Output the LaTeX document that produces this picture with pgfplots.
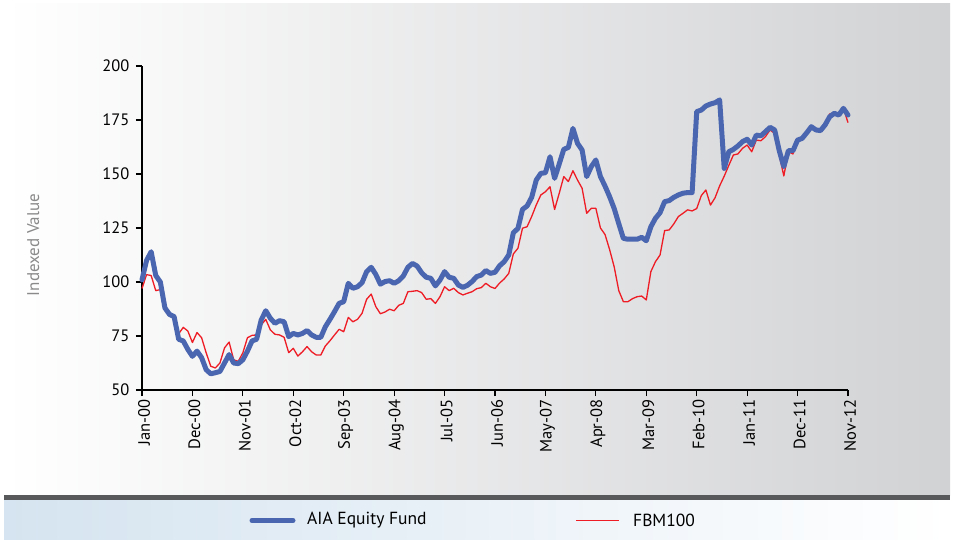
\documentclass[border=0pt]{standalone}
\usepackage{pgfplots}
\pgfplotsset{compat=1.18}
\usepackage{pgfplotstable}
\usepackage{fontspec}
\setmainfont{PT Sans}
\definecolor{aiablue}{HTML}{4A66B0}
\definecolor{fbmred}{HTML}{EE1C25}
\definecolor{panelR}{HTML}{D1D2D4}
\definecolor{darkbar}{HTML}{58595B}
\definecolor{legblue}{HTML}{D5E4F0}
\definecolor{labgray}{HTML}{8A8A8A}
\pgfplotstableread{
m aia fbm
0 101 97
1 110 103.4
2 114 103
3 103 96
4 100 96.5
5 88 88
6 85 85
7 84 84
8 73.5 76
9 72.7 79
10 68.8 77.3
11 65.6 72
12 68 76.6
13 65 74.2
14 59.4 67.2
15 57.5 61
16 58 60.2
17 58.6 62.5
18 62.5 69.5
19 66.4 72.2
20 62.5 64
21 62.2 63.3
22 64 67.2
23 68 74.2
24 72.7 75.3
25 73.5 75.5
26 82.4 80.1
27 86.7 82.7
28 83.2 77.8
29 80.9 75.8
30 82.1 75.5
31 81.6 74.4
32 74.7 67.3
33 76.2 69.3
34 75.5 65.7
35 76.2 67.7
36 77.5 70.1
37 75.5 67.7
38 74.4 66.2
39 74.4 66.2
40 79.3 70.4
41 82.7 72.8
42 86.3 75.5
43 90.1 78.1
44 90.9 77
45 99.4 83.6
46 97.1 81.6
47 97.8 82.7
48 99.7 85.5
49 104.8 92
50 106.8 94.4
51 103.5 88.6
52 99 85.3
53 100.2 86.1
54 100.6 87.4
55 99.4 86.7
56 100.6 89.2
57 102.8 90.1
58 106.8 95.5
59 108.6 95.7
60 107.4 96
61 104.3 95.1
62 102.2 92
63 101.7 92.3
64 98.2 90.1
65 100.9 93.2
66 104.8 97.8
67 102.2 96
68 101.7 97.1
69 98.6 95.1
70 97.5 94
71 98.5 94.8
72 100.2 95.5
73 102.5 96.9
74 103.2 97.4
75 105.3 99.4
76 104 97.8
77 104.5 97
78 107.5 99.5
79 109.4 101.4
80 112.5 104
81 122.8 113
82 124.8 115.6
83 133.6 124.9
84 135.2 125.6
85 139.2 130.3
86 147.2 135.7
87 150.3 140.3
88 150.6 141.8
89 158 144.1
90 148 133.6
91 154.6 141
92 161.4 148.8
93 162.3 146.5
94 171.1 151.5
95 164.2 147.2
96 161.1 143.4
97 148.8 131.8
98 153.4 134.1
99 156.5 134.1
100 148.8 125
101 144.4 122
102 139.5 115
103 134 107
104 127 96
105 120.2 90.9
106 119.8 90.9
107 119.8 92.3
108 119.8 93.2
109 120.7 93.5
110 119.1 91.7
111 125.6 104.8
112 129.5 109.4
113 132.1 112.5
114 137.2 123.8
115 137.7 124.1
116 139.2 126.9
117 140.3 130.3
118 141.1 131.8
119 141.4 133.4
120 141.4 132.9
121 178.9 134
122 179.6 140
123 181.5 142.6
124 182.4 135.6
125 183 139
126 184.3 144.5
127 152.6 149
128 160.3 154
129 161.4 158.8
130 163 159.3
131 165 161.9
132 166.1 163.4
133 163.4 160.3
134 168 165.7
135 167.7 165.4
136 169.6 167.3
137 171.6 170.4
138 170.4 168.8
139 160.8 158.8
140 153.4 149.1
141 160.8 160.3
142 160.8 159.3
143 165.7 165
144 166.5 166.5
145 169.1 169.1
146 171.9 171.9
147 170.4 170.1
148 170.1 170.1
149 172.7 173
150 176.5 177.8
151 178.1 178.4
152 177.3 177.3
153 180.4 180.4
154 177.3 173.8
}\datatable
\begin{document}
\begin{tikzpicture}[x=1pt,y=1pt]
\useasboundingbox (0,0) rectangle (953,539);
\fill[white] (0,0) rectangle (953,539);
\shade[left color=white, right color=panelR] (4,44) rectangle (950,535);
\fill[darkbar] (4,39) rectangle (950,44);
\shade[left color=legblue, right color=white] (4,0) rectangle (950,39);
\begin{axis}[
  at={(142pt,149pt)}, anchor=south west,
  scale only axis, width=706pt, height=324pt,
  xmin=0, xmax=154, ymin=50, ymax=200,
  axis x line*=bottom, axis y line*=left,
  axis line style={-, line width=1.2pt, black},
  xtick={0,11,...,154},
  xticklabels={Jan-00,Dec-00,Nov-01,Oct-02,Sep-03,Aug-04,Jul-05,Jun-06,May-07,Apr-08,Mar-09,Feb-10,Jan-11,Dec-11,Nov-12},
  ytick={50,75,...,200},
  x tick label style={rotate=90, anchor=east, yshift=-2pt},
  y tick label style={xshift=-3pt},
  tick style={black, line width=1.2pt},
  major tick length=6pt,
  tick align=outside,
  tick label style={font=\fontsize{16.5}{18}\selectfont},
  /pgf/number format/assume math mode=true,
  ylabel={Indexed Value},
  ylabel style={at={(axis description cs:-0.154,0.4475)}, anchor=center, font=\fontsize{17}{19}\selectfont, text=labgray},
  clip=false,
]
\addplot[fbmred, line width=1.3pt, line join=round, no markers] table[x=m, y=fbm] {\datatable};
\addplot[aiablue, line width=5pt, line join=round, line cap=round, no markers] table[x=m, y=aia] {\datatable};
\end{axis}
\draw[aiablue, line width=5pt, line cap=round] (252,18.5) -- (293,18.5);
\node[anchor=west, inner sep=0pt, font=\fontsize{17.5}{19}\selectfont] at (307,19) {AIA Equity Fund};
\draw[fbmred, line width=1.5pt] (576,18.5) -- (619,18.5);
\node[anchor=west, inner sep=0pt, font=\fontsize{17.5}{19}\selectfont] at (633,19) {FBM100};
\end{tikzpicture}
\end{document}
